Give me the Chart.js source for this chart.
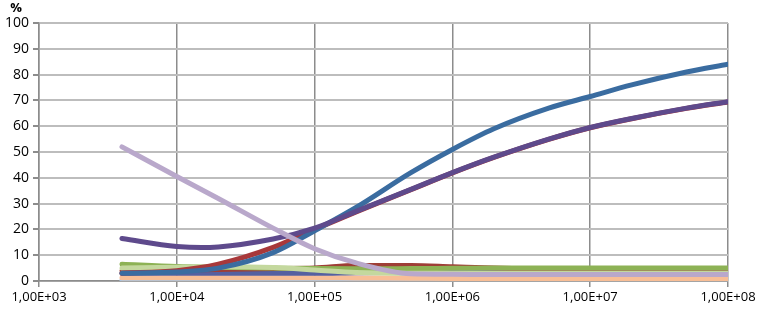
<!DOCTYPE html>
<html>
<head>
<meta charset="utf-8">
<script src="https://cdn.jsdelivr.net/npm/chart.js@4/dist/chart.umd.min.js"></script>
<style>
  html, body { margin: 0; padding: 0; background: #fff; }
  #wrap { width: 759px; height: 309px; position: relative; }
</style>
</head>
<body>
<div id="wrap"><canvas id="chart"></canvas></div>
<script>
// x positions (log scale)
var xValues = [4e3, 1e4, 2e4, 5e4, 1e5, 2e5, 5e5, 1e6, 2e6, 5e6, 1e7, 2e7, 5e7, 1e8];
var xTicks = [1e3, 1e4, 1e5, 1e6, 1e7, 1e8];
var yTicks = [0, 10, 20, 30, 40, 50, 60, 70, 80, 90, 100];

// series, listed top-most first
var lavender   = [52, 40.5, 32, 20.5, 12.5, 7, 2.8, 2.6, 2.5, 2.5, 2.5, 2.5, 2.5, 2.5];
var purple     = [16.5, 13.4, 13.2, 16.3, 20.5, 27, 35.5, 42, 48, 55, 59.5, 63, 67, 69.5];
var blue       = [3, 3.5, 5, 11, 19.5, 28.5, 42, 51, 59, 67, 71.5, 76, 81, 84];
var darkRed    = [3, 4, 6.5, 13, 20, 26.8, 35.4, 41.9, 47.9, 54.9, 59.4, 62.9, 66.9, 69.4];
var lightGreen = [5, 5.3, 5.5, 5.2, 4.3, 3.3, 3, 3, 3, 3, 3, 3, 3, 3];
var green      = [6.5, 5.6, 5.3, 5, 4.8, 4.7, 4.8, 4.9, 5, 5, 5, 5, 5, 5];
var red        = [4, 4.2, 4.5, 4.8, 5, 6, 6, 5.5, 5, 4.5, 4.3, 4.2, 4.1, 4];
var navy       = [3, 3, 3, 3, 3, 3.2, 3.4, 3.5, 3.5, 3.5, 3.5, 3.5, 3.5, 3.5];
var peach      = [1.3, 1.3, 1.3, 1.3, 1.3, 1.2, 1.1, 1, 1, 1, 1, 1, 1, 1];
var lightBlue  = [0.3, 0.3, 0.3, 0.3, 0.3, 0.3, 0.3, 0.3, 0.3, 0.3, 0.3, 0.3, 0.3, 0.3];

function pts(arr) {
  var out = [];
  for (var i = 0; i < arr.length; i++) {
    out.push({ x: xValues[i], y: arr[i] });
  }
  return out;
}

function series(arr, color, smooth) {
  var ds = {
    data: pts(arr),
    borderColor: color,
    backgroundColor: color,
    borderWidth: 5,
    pointRadius: 0,
    fill: false,
    borderCapStyle: 'round'
  };
  if (smooth) {
    ds.tension = 0.35;
  } else {
    ds.cubicInterpolationMode = 'monotone';
  }
  return ds;
}

function expLabel(v) {
  var e = Math.round(Math.log10(v));
  return "1,00E+" + (e < 10 ? "0" + e : e);
}

var percentLabel = {
  id: 'percentLabel',
  afterDraw: function(chart) {
    var ctx = chart.ctx;
    ctx.save();
    ctx.fillStyle = '#000';
    ctx.font = 'bold 13px "Open Sans", sans-serif';
    ctx.textAlign = 'center';
    ctx.textBaseline = 'middle';
    ctx.fillText('%', 16, 8);
    ctx.restore();
  }
};

new Chart(document.getElementById('chart'), {
  type: 'line',
  data: {
    datasets: [
      series(lavender, '#B9A8CB'),
      series(purple, '#5E4A8C', true),
      series(blue, '#3A6CA0'),
      series(darkRed, '#A8383A'),
      series(lightGreen, '#C4D89E'),
      series(green, '#8DB255'),
      series(red, '#9E3E36'),
      series(navy, '#5560A0'),
      series(peach, '#F8BE96'),
      series(lightBlue, '#A7C4E2')
    ]
  },
  options: {
    responsive: true,
    maintainAspectRatio: false,
    animation: false,
    layout: { padding: { top: 23, right: 31, left: 0, bottom: 0 } },
    plugins: { legend: { display: false }, tooltip: { enabled: false } },
    scales: {
      x: {
        type: 'logarithmic',
        min: 1e3,
        max: 1e8,
        afterBuildTicks: function(scale) {
          scale.ticks = xTicks.map(function(v) { return { value: v, major: true }; });
        },
        afterFit: function(scale) {
          scale.height = 28;
          scale.paddingLeft = 0;
          scale.paddingRight = 0;
        },
        ticks: {
          autoSkip: false,
          maxRotation: 0,
          color: '#000',
          padding: 2,
          font: { family: '"Open Sans", sans-serif', size: 13 },
          callback: function(v) { return expLabel(v); }
        },
        grid: { color: '#8C8C8C', lineWidth: 1.5, tickLength: 6, drawTicks: true },
        border: { color: '#8C8C8C', width: 1.5 }
      },
      y: {
        min: 0,
        max: 100,
        afterBuildTicks: function(scale) {
          scale.ticks = yTicks.map(function(v) { return { value: v }; });
        },
        afterFit: function(scale) { scale.width = 39; },
        ticks: {
          color: '#000',
          padding: 4,
          font: { family: '"Open Sans", sans-serif', size: 14 }
        },
        grid: { color: '#BDBDBD', lineWidth: 2, tickLength: 6, tickColor: '#8C8C8C' },
        border: { color: '#8C8C8C', width: 1.5 }
      }
    }
  },
  plugins: [percentLabel]
});
</script>
</body>
</html>
